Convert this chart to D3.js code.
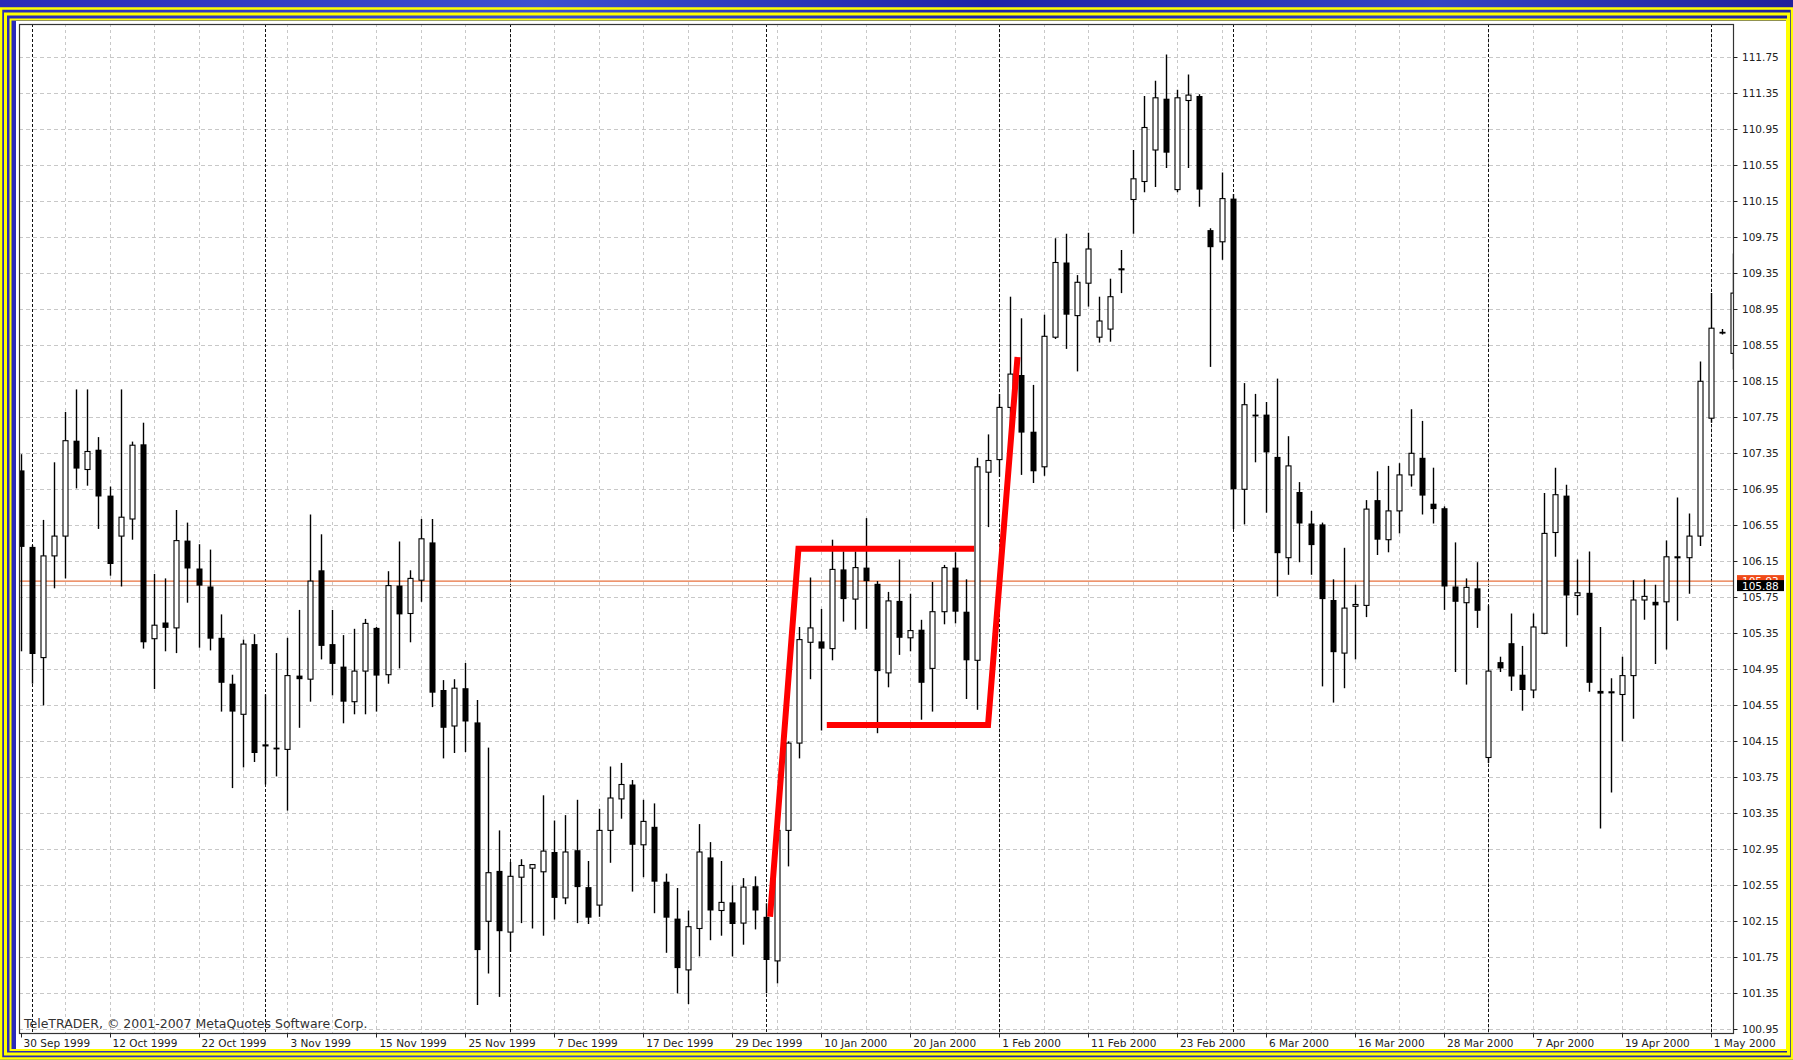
<!DOCTYPE html>
<html>
<head>
<meta charset="utf-8">
<script src="https://cdn.jsdelivr.net/npm/d3@7"></script>
<style>
  body { margin: 0; background: #1c1ca4; }
  svg { display: block; }
</style>
</head>
<body>
<svg id="chart" width="1793" height="1060"></svg>
<script>
// daily USDJPY-like bars, 30 Sep 1999 .. 3 May 2000
const opens = [107.16,106.31,105.08,106.21,106.43,107.49,107.17,107.39,106.88,106.43,
  106.62,107.45,105.29,105.47,105.41,106.38,106.07,105.87,105.30,104.79,
  104.45,105.23,104.10,104.08,104.06,104.88,104.84,106.05,105.23,104.98,
  104.59,104.93,105.41,104.89,105.88,105.57,105.94,106.36,104.72,104.32,
  104.74,104.36,102.15,102.71,102.03,102.64,102.74,102.70,102.92,102.41,
  102.94,102.53,102.33,103.16,103.51,103.67,103.00,103.20,102.59,102.18,
  101.61,102.07,102.86,102.27,102.36,102.13,102.54,102.20,101.71,103.16,
  104.13,105.25,105.26,105.18,106.06,105.73,106.08,105.90,104.91,105.71,
  105.30,105.39,104.96,105.59,106.08,105.59,105.05,107.14,107.28,107.86,
  108.22,107.59,107.20,108.64,109.47,108.88,109.24,108.64,108.73,109.39,
  110.17,110.37,110.72,111.29,110.28,111.27,111.32,109.83,109.70,110.18,
  106.95,107.78,107.78,107.31,106.19,106.92,106.57,106.56,105.72,105.13,
  105.65,105.66,106.83,106.39,106.71,107.11,107.30,106.79,106.74,105.87,
  105.69,105.85,103.97,105.03,105.24,104.89,104.72,105.35,106.47,106.88,
  105.77,105.80,104.71,104.69,104.67,104.88,105.72,105.70,105.70,106.19,
  106.19,106.43,107.74,108.70,108.46];
const highs = [107.34,106.33,106.61,107.25,107.81,108.06,108.06,107.53,106.98,108.06,
  107.48,107.69,106.01,105.96,106.72,106.58,106.34,106.28,105.56,104.89,
  105.28,105.34,104.67,105.13,105.30,105.61,106.67,106.45,105.61,105.33,
  105.40,105.51,105.42,106.04,106.37,106.05,106.62,106.62,104.83,104.84,
  105.02,104.61,104.08,103.16,102.81,102.84,102.78,103.55,103.27,103.33,
  103.50,102.82,103.40,103.87,103.91,103.72,103.50,103.46,102.68,102.52,
  102.27,103.23,103.03,102.82,102.55,102.63,102.65,102.35,103.37,104.15,
  105.42,105.97,105.62,106.39,106.26,106.26,106.63,105.93,105.81,106.17,
  105.79,105.50,105.92,106.11,106.25,105.95,107.30,107.56,108.01,109.09,
  108.85,108.11,108.89,109.74,109.79,109.33,109.80,109.09,109.29,109.61,
  110.72,111.32,111.49,111.78,111.39,111.56,111.34,109.85,110.47,110.23,
  108.13,108.01,107.92,108.18,107.54,107.03,106.71,106.58,105.95,106.30,
  105.89,106.83,107.15,107.21,107.24,107.84,107.71,107.19,106.76,106.36,
  105.96,106.14,105.66,105.09,105.57,105.21,105.57,106.91,107.19,107.00,
  106.17,106.26,105.42,104.85,105.09,105.94,105.95,105.89,106.38,106.86,
  106.68,108.37,109.13,108.73,109.57];
const lows = [105.15,104.79,104.55,105.85,105.96,106.96,106.99,106.51,105.99,105.87,
  106.39,105.18,104.73,105.15,105.13,105.69,105.19,105.16,104.48,103.63,
  103.86,103.92,103.67,103.76,103.38,104.30,104.59,105.06,104.66,104.35,
  104.45,104.45,104.48,104.79,104.96,105.25,105.70,104.53,103.96,104.02,
  104.03,101.22,101.57,101.31,101.81,102.13,102.07,101.99,102.17,102.34,
  102.13,102.12,102.20,102.80,103.29,102.48,102.64,102.24,101.80,101.35,
  101.23,101.76,101.94,101.99,101.76,101.89,102.06,101.35,101.46,102.76,
  103.96,104.84,104.27,105.05,105.48,105.39,105.40,104.24,104.75,105.11,
  105.15,104.39,104.48,105.45,105.46,104.62,104.50,106.53,107.09,107.50,
  107.11,107.02,107.10,108.62,108.51,108.26,108.98,108.58,108.59,109.13,
  109.79,110.25,110.31,110.52,110.25,110.52,110.09,108.31,109.50,106.51,
  106.56,107.25,106.69,105.76,106.00,106.14,106.00,104.76,104.58,104.74,
  105.06,105.53,106.22,106.25,106.46,106.98,106.67,106.57,105.61,104.92,
  104.78,105.41,103.91,104.92,104.71,104.49,104.63,105.34,106.20,105.20,
  105.55,104.70,103.18,103.58,104.15,104.40,105.50,105.01,105.17,105.49,
  105.79,106.32,107.69,108.67,108.28];
const closes = [106.31,105.12,106.21,106.43,107.49,107.18,107.37,106.87,106.12,106.64,
  107.44,105.25,105.44,105.41,106.38,106.07,105.88,105.29,104.80,104.48,
  105.23,104.02,104.11,104.06,104.88,104.84,105.93,105.21,105.01,104.59,
  104.93,105.46,104.88,105.88,105.56,105.96,106.40,104.69,104.30,104.74,
  104.37,101.83,102.69,102.04,102.65,102.77,102.78,102.93,102.41,102.92,
  102.53,102.19,103.16,103.52,103.67,103.00,103.26,102.59,102.19,101.63,
  102.09,102.92,102.27,102.36,102.12,102.53,102.27,101.72,103.16,104.13,
  105.28,105.41,105.18,106.06,105.73,106.08,105.93,104.93,105.71,105.30,
  105.38,104.80,105.59,106.08,105.59,105.05,107.20,107.27,107.86,108.23,
  107.58,107.15,108.65,109.47,108.89,109.25,109.62,108.82,109.09,109.40,
  110.40,110.97,111.30,110.69,111.30,111.33,110.28,109.64,110.18,106.95,
  107.89,107.76,107.36,106.24,107.21,106.57,106.33,105.73,105.14,105.63,
  105.67,106.73,106.39,106.71,107.11,107.35,106.88,106.73,105.87,105.70,
  105.86,105.60,104.93,104.96,104.87,104.72,105.42,106.46,106.89,105.77,
  105.80,104.80,104.68,104.70,104.88,105.72,105.76,105.66,106.20,106.20,
  106.43,108.15,108.74,108.68,109.13];

// time axis labels, one every 8 bars starting at bar 0
const dateLabels = ["30 Sep 1999","12 Oct 1999","22 Oct 1999","3 Nov 1999","15 Nov 1999",
  "25 Nov 1999","7 Dec 1999","17 Dec 1999","29 Dec 1999","10 Jan 2000","20 Jan 2000",
  "1 Feb 2000","11 Feb 2000","23 Feb 2000","6 Mar 2000","16 Mar 2000","28 Mar 2000",
  "7 Apr 2000","19 Apr 2000","1 May 2000"];
const labelBars = [0,8,16,24,32,40,48,56,64,72,80,88,96,104,112,120,128,136,144,152];
// first bar of each month (period separators)
const monthStarts = [1,22,44,67,88,109,132,152];
const priceTicks = ["100.95","101.35","101.75","102.15","102.55","102.95","103.35","103.75",
  "104.15","104.55","104.95","105.35","105.75","106.15","106.55","106.95","107.35",
  "107.75","108.15","108.55","108.95","109.35","109.75","110.15","110.55","110.95",
  "111.35","111.75"];
const bidPrice = 105.88, askPrice = 105.93;
// hand drawn flag annotation: [bar, price]
const flagPole = [[67.4,102.20],[69.95,106.29],[85.75,106.29]];
const flagBase = [[72.5,104.33],[87.0,104.33],[89.65,108.42]];

const W = 1793, H = 1060;
const plot = {left: 19, top: 24, right: 1733.5, bottom: 1033.5};
const svg = d3.select("#chart");

const x = d3.scaleLinear().domain([0, 154]).range([20.6, 20.6 + 154 * 11.12]);
const y = d3.scaleLinear().domain([100.95, 111.75]).range([1029.3, 57.3]);

// ---- outer frame (screenshot window border)
const defs = svg.append("defs");
const bg = defs.append("linearGradient").attr("id", "bg").attr("x1", 0).attr("x2", 1).attr("y1", 0).attr("y2", 0);
bg.append("stop").attr("offset", "0%").attr("stop-color", "#2a2ab8");
bg.append("stop").attr("offset", "30%").attr("stop-color", "#3c50d0");
bg.append("stop").attr("offset", "55%").attr("stop-color", "#1e22a8");
bg.append("stop").attr("offset", "80%").attr("stop-color", "#3444c4");
bg.append("stop").attr("offset", "100%").attr("stop-color", "#20209c");
svg.append("rect").attr("width", W).attr("height", H).attr("fill", "url(#bg)");

const frames = [
  {x: 1, y: 8.5, w: 1791, h: 1050, sw: 2.5},
  {x: 5.5, y: 14, w: 1783, h: 1040, sw: 3},
  {x: 10.5, y: 19.5, w: 1776.5, h: 1030.5, sw: 2}
];
svg.selectAll(".frame").data(frames).enter().append("rect")
  .attr("class", "frame")
  .attr("x", d => d.x).attr("y", d => d.y).attr("width", d => d.w).attr("height", d => d.h)
  .attr("fill", "none").attr("stroke", "#ffff00").attr("stroke-width", d => d.sw);

svg.append("rect").attr("x", 16).attr("y", 21).attr("width", 1770).attr("height", 1028)
  .attr("fill", "#ffffff");

// ---- grid
const grid = svg.append("g");
grid.selectAll(".hgrid").data(priceTicks).enter().append("line")
  .attr("x1", plot.left).attr("x2", plot.right)
  .attr("y1", d => Math.round(y(+d)) + 0.5).attr("y2", d => Math.round(y(+d)) + 0.5)
  .attr("stroke", "#c8c8c8").attr("stroke-dasharray", "4,3");
grid.selectAll(".vgrid").data(d3.range(4, 155, 4)).enter().append("line")
  .attr("x1", d => Math.round(x(d)) + 0.5).attr("x2", d => Math.round(x(d)) + 0.5)
  .attr("y1", plot.top).attr("y2", plot.bottom)
  .attr("stroke", "#c8c8c8").attr("stroke-dasharray", "3,3");
grid.selectAll(".sep").data(monthStarts).enter().append("line")
  .attr("x1", d => Math.round(x(d)) + 0.5).attr("x2", d => Math.round(x(d)) + 0.5)
  .attr("y1", plot.top).attr("y2", plot.bottom)
  .attr("stroke", "#111").attr("stroke-dasharray", "3,2");

// bid / ask lines
svg.append("line").attr("x1", plot.left).attr("x2", plot.right)
  .attr("y1", y(bidPrice)).attr("y2", y(bidPrice))
  .attr("stroke", "#d8b8a8").attr("stroke-width", 1);
svg.append("line").attr("x1", plot.left).attr("x2", plot.right)
  .attr("y1", y(askPrice)).attr("y2", y(askPrice))
  .attr("stroke", "#e8703c").attr("stroke-width", 1.2);

// ---- candles
defs.append("clipPath").attr("id", "clip").append("rect")
  .attr("x", plot.left).attr("y", plot.top)
  .attr("width", plot.right - plot.left).attr("height", plot.bottom - plot.top);
const bars = opens.map((o, i) => ({i: i, o: o, h: highs[i], l: lows[i], c: closes[i]}));
const candles = svg.append("g").attr("clip-path", "url(#clip)")
  .selectAll(".candle").data(bars).enter().append("g").attr("class", "candle");

candles.append("line")
  .attr("x1", d => Math.round(x(d.i)) + 0.5).attr("x2", d => Math.round(x(d.i)) + 0.5)
  .attr("y1", d => y(d.h)).attr("y2", d => y(d.l))
  .attr("stroke", "#000").attr("stroke-width", 1.4);
candles.append("rect")
  .attr("x", d => Math.round(x(d.i)) - (d.c >= d.o ? 2 : 2.5))
  .attr("width", d => d.c >= d.o ? 5 : 6)
  .attr("y", d => y(Math.max(d.o, d.c)))
  .attr("height", d => Math.max(1, Math.abs(y(d.o) - y(d.c))))
  .attr("fill", d => d.c >= d.o ? "#fff" : "#000")
  .attr("stroke", "#000").attr("stroke-width", d => d.c >= d.o ? 1.1 : 0);

// ---- hand drawn annotation
const line = d3.line().x(d => x(d[0])).y(d => y(d[1]));
[flagPole, flagBase].forEach(pts => {
  svg.append("path").attr("d", line(pts))
    .attr("fill", "none").attr("stroke", "#ff0000").attr("stroke-width", 6)
    .attr("stroke-linejoin", "miter");
});

// ---- plot border
svg.append("rect").attr("x", plot.left + 0.5).attr("y", plot.top + 0.5)
  .attr("width", plot.right - plot.left - 0.5).attr("height", plot.bottom - plot.top - 0.5)
  .attr("fill", "none").attr("stroke", "#333").attr("stroke-width", 1.2);

// ---- price axis
const font = "DejaVu Sans, Verdana, sans-serif";
const yAxis = svg.append("g");
yAxis.selectAll(".ytick").data(priceTicks).enter().append("line")
  .attr("x1", plot.right).attr("x2", plot.right + 4)
  .attr("y1", d => Math.round(y(+d)) + 0.5).attr("y2", d => Math.round(y(+d)) + 0.5)
  .attr("stroke", "#222");
yAxis.selectAll(".ylab").data(priceTicks).enter().append("text")
  .attr("x", 1742).attr("y", d => y(+d) + 4)
  .attr("font-family", font).attr("font-size", "10.5px").attr("fill", "#222")
  .text(d => d);

// ask/bid price boxes (the ask box is mostly covered by the bid box)
defs.append("clipPath").attr("id", "askclip").append("rect")
  .attr("x", 1737).attr("y", y(askPrice) - 6).attr("width", 47).attr("height", 5);
svg.append("rect").attr("x", 1737).attr("y", y(askPrice) - 6).attr("width", 47).attr("height", 11)
  .attr("fill", "#f04a18");
svg.append("text").attr("x", 1742).attr("y", y(askPrice) + 3.5)
  .attr("clip-path", "url(#askclip)")
  .attr("font-family", font).attr("font-size", "10.5px").attr("fill", "#fff").text(askPrice.toFixed(2));
svg.append("rect").attr("x", 1737).attr("y", y(bidPrice) - 5.5).attr("width", 47).attr("height", 11)
  .attr("fill", "#000");
svg.append("text").attr("x", 1742).attr("y", y(bidPrice) + 4)
  .attr("font-family", font).attr("font-size", "10.5px").attr("fill", "#fff").text(bidPrice.toFixed(2));

// ---- time axis
const xAxis = svg.append("g");
xAxis.selectAll(".xtick").data(labelBars).enter().append("line")
  .attr("x1", d => Math.round(x(d)) + 0.5).attr("x2", d => Math.round(x(d)) + 0.5)
  .attr("y1", plot.bottom).attr("y2", plot.bottom + 4)
  .attr("stroke", "#222");
xAxis.selectAll(".xlab").data(dateLabels).enter().append("text")
  .attr("x", (d, k) => x(labelBars[k]) + 3).attr("y", 1047)
  .attr("font-family", font).attr("font-size", "10.5px").attr("fill", "#222")
  .text(d => d);

svg.append("text").attr("x", 24).attr("y", 1028)
  .attr("font-family", font).attr("font-size", "12.5px").attr("fill", "#333")
  .text("TeleTRADER, \u00a9 2001-2007 MetaQuotes Software Corp.");
</script>
</body>
</html>
